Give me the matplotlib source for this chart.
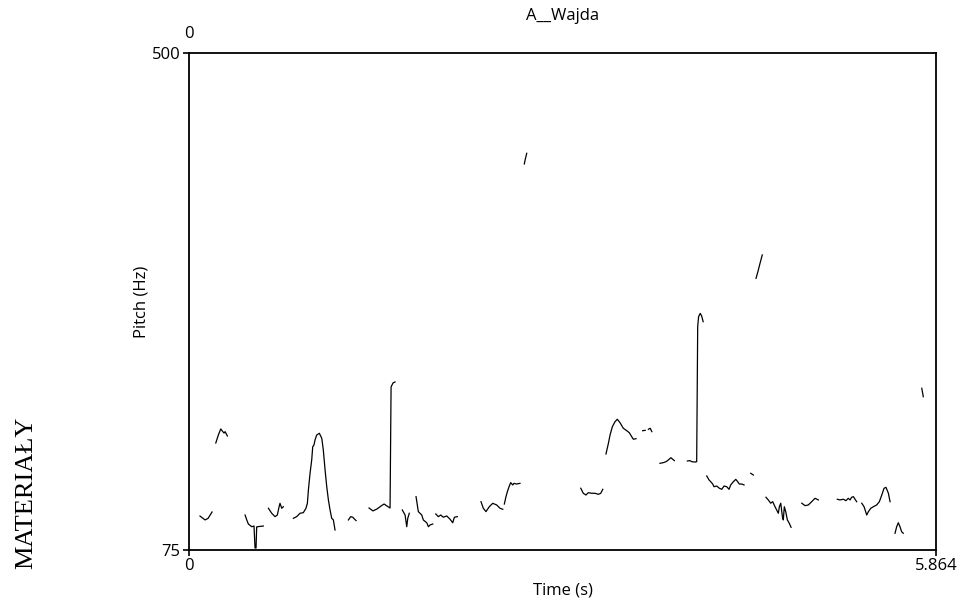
import matplotlib
matplotlib.use("Agg")
from matplotlib import pyplot as plt
import numpy as np

# pitch track, one row per voiced stretch (time in s, F0 in Hz)
seg_times = [
    [0.086, 0.126, 0.149, 0.181],
    [0.21, 0.23, 0.249, 0.265, 0.275, 0.283, 0.301],
    [0.44, 0.453, 0.466, 0.492, 0.51, 0.518, 0.526, 0.531, 0.536, 0.583],
    [0.623, 0.649, 0.675, 0.693, 0.707, 0.714, 0.728, 0.74],
    [0.819, 0.845, 0.871, 0.897, 0.918, 0.929, 0.937, 0.950, 0.963, 0.971, 0.981, 0.989,
     1.002, 1.023, 1.042, 1.054, 1.068, 1.081, 1.094, 1.107, 1.120, 1.133, 1.146],
    [1.251, 1.269, 1.285, 1.311],
    [1.413, 1.444, 1.476, 1.507, 1.531, 1.554, 1.578, 1.586, 1.601, 1.617],
    [1.674, 1.696, 1.709, 1.717, 1.729],
    [1.782, 1.80, 1.827, 1.839, 1.866, 1.879, 1.892, 1.913],
    [1.937, 1.957, 1.976, 1.996, 2.023, 2.049, 2.07, 2.083, 2.106],
    [2.292, 2.31, 2.331, 2.357, 2.384, 2.415, 2.441, 2.463],
    [2.475, 2.488, 2.499, 2.514, 2.525, 2.541, 2.551, 2.572, 2.598],
    [2.632, 2.64, 2.651],
    [3.075, 3.095, 3.116, 3.134, 3.161, 3.187, 3.213, 3.232, 3.248],
    [3.273, 3.292, 3.305, 3.323, 3.344, 3.362, 3.383, 3.409, 3.436, 3.456, 3.475, 3.488, 3.509],
    [3.561, 3.581],
    [3.606, 3.62, 3.633],
    [3.697, 3.723, 3.744, 3.763, 3.782, 3.797, 3.81],
    [3.912, 3.933, 3.946, 3.972, 3.985, 3.993, 4.0, 4.013, 4.024, 4.036],
    [4.064, 4.082, 4.095, 4.111, 4.121, 4.142, 4.163, 4.182, 4.2, 4.221, 4.239, 4.252,
     4.273, 4.292, 4.307, 4.32, 4.339, 4.357],
    [4.409, 4.43],
    [4.451, 4.467, 4.482, 4.5],
    [4.529, 4.547, 4.566, 4.582, 4.6, 4.613, 4.626, 4.634, 4.645, 4.658, 4.665, 4.673,
     4.684, 4.697, 4.712, 4.726],
    [4.81, 4.836, 4.861, 4.888, 4.914, 4.94],
    [5.089, 5.11, 5.136, 5.157, 5.175, 5.189, 5.202, 5.215, 5.228, 5.241],
    [5.281, 5.299, 5.32, 5.333, 5.352, 5.372, 5.398, 5.419, 5.438, 5.456, 5.471, 5.49, 5.503],
    [5.542, 5.555, 5.568, 5.581, 5.594, 5.607],
    [5.752, 5.758, 5.764],
]
seg_pitch = [
    [104.0, 100.7, 102.0, 107.5],
    [166.5, 173.3, 178.5, 176.2, 175.0, 176.2, 172.5],
    [104.9, 100.7, 97.2, 94.9, 95.5, 76.7, 76.7, 94.7, 94.9, 95.5],
    [110.7, 106.4, 103.5, 104.9, 112.0, 114.9, 110.7, 112.0],
    [102.1, 103.5, 106.4, 106.9, 110.7, 114.9, 126.3, 140.6, 152.0, 163.3, 164.8, 169.1,
     173.3, 174.8, 170.5, 160.5, 143.4, 129.1, 117.8, 109.2, 102.1, 100.7, 92.1],
    [100.7, 103.5, 103.0, 100.1],
    [110.9, 108.4, 110.1, 112.6, 114.3, 112.6, 110.9, 214.4, 217.8, 218.7],
    [109.2, 104.9, 94.9, 102.1, 106.4],
    [120.6, 107.8, 104.9, 100.7, 98.3, 94.9, 96.4, 97.2],
    [105.8, 103.5, 104.9, 103.0, 104.1, 101.3, 98.3, 103.0, 103.5],
    [116.3, 110.7, 107.8, 112.0, 114.9, 113.5, 110.7, 109.8],
    [114.3, 120.6, 124.9, 129.7, 132.6, 130.6, 132.0, 131.4, 132.0],
    [405.1, 409.4, 414.2],
    [127.8, 123.5, 122.0, 124.0, 123.5, 123.5, 122.6, 123.5, 126.9],
    [157.1, 166.2, 173.3, 180.4, 184.7, 186.8, 183.9, 179.1, 177.0, 175.3, 171.9, 169.7, 170.2],
    [177.0, 177.3],
    [178.2, 179.1, 176.2],
    [149.1, 149.7, 150.5, 152.0, 153.9, 152.6, 151.4],
    [151.1, 151.4, 150.5, 150.2, 150.5, 265.9, 274.5, 277.3, 275.1, 270.2],
    [138.3, 134.9, 133.4, 131.4, 129.1, 129.7, 127.8, 126.9, 129.7, 129.1, 126.9, 130.6,
     133.4, 135.4, 133.4, 131.4, 131.4, 130.6],
    [140.6, 139.1],
    [307.3, 313.6, 320.0, 327.3],
    [120.1, 117.8, 115.0, 116.3, 112.0, 109.2, 106.4, 112.0, 115.0, 103.5, 100.7, 112.0,
     107.8, 100.7, 97.8, 94.4],
    [115.0, 112.9, 113.5, 116.3, 119.2, 117.8],
    [118.4, 117.8, 118.4, 117.2, 119.2, 117.8, 120.1, 120.6, 118.4, 116.3],
    [115.0, 112.0, 104.9, 107.8, 110.7, 112.0, 113.5, 116.3, 122.0, 127.8, 128.6, 123.5, 116.3],
    [89.3, 94.9, 98.3, 94.9, 90.6, 89.3],
    [213.3, 209.7, 206.1],
]

t_end = 5.864
f_min, f_max = 75, 500

plt.rcParams['font.family'] = ['Open Sans', 'DejaVu Sans']

fig = plt.figure(figsize=(9.63, 6.02), dpi=100)
ax = fig.add_axes([0.1963, 0.0864, 0.7757, 0.8256])

for t, f in zip(seg_times, seg_pitch):
    ax.plot(t, f, color='black', lw=0.9)

ax.set_xlim(0, t_end)
ax.set_ylim(f_min, f_max)
ax.set_xticks([0, t_end])
ax.set_xticklabels(['0', '5.864'])
ax.set_yticks([f_min, f_max])
ax.set_yticklabels(['75', '500'])
ax.tick_params(direction='out', length=4, width=1.2, labelsize=12, pad=2)
for s in ax.spines.values():
    s.set_linewidth(1.3)

ax.set_xlabel('Time (s)', fontsize=12, labelpad=6)
ax.set_ylabel('Pitch (Hz)', fontsize=12, labelpad=2)
ax.set_title('A__Wajda', fontsize=12, pad=24)

# start time printed over the top-left corner
ax.text(0, 1.022, '0', transform=ax.transAxes, ha='center', va='bottom', fontsize=12)

fig.text(0.027, 0.181, 'MATERIAŁY', rotation=90, ha='center', va='center',
         family='Liberation Serif', fontsize=19)

plt.savefig('out.png', dpi=100)
